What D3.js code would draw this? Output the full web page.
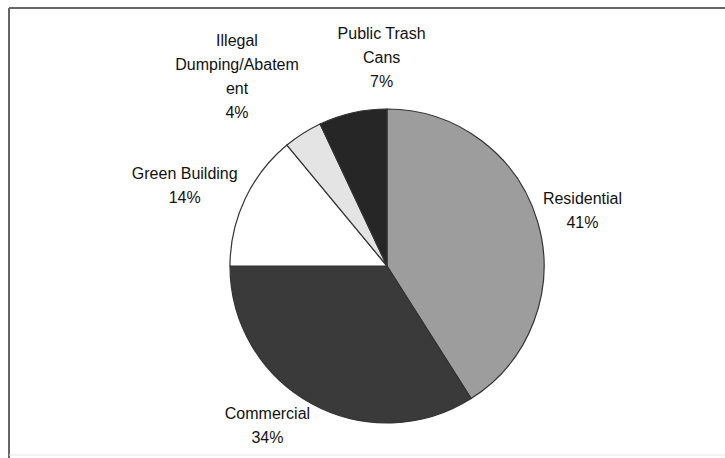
<!DOCTYPE html>
<html>
<head>
<meta charset="utf-8">
<script src="https://cdn.jsdelivr.net/npm/d3@7"></script>
<style>
  body { margin: 0; background: #fff; }
  svg { display: block; }
</style>
</head>
<body>
<div id="chart"></div>
<script>
// Pie of spending share by program area

const categories = ["Residential", "Commercial", "Green Building", "Illegal Dumping/Abatement", "Public Trash Cans"];
const shares = [41, 34, 14, 4, 7];
const labelLines = [
  ["Residential"],
  ["Commercial"],
  ["Green Building"],
  ["Illegal", "Dumping/Abatem", "ent"],
  ["Public Trash", "Cans"]
];
const fills = ["#9d9d9d", "#3a3a3a", "#ffffff", "#e4e4e4", "#262626"];

const width = 725;
const height = 458;
const cx = 387, cy = 266, radius = 157;
const lineH = 24;

// small nudges so labels sit where the original placed them
const labelNudge = {
  "Residential": [0, -3],
  "Commercial": [-20, -5],
  "Green Building": [-6, 0],
  "Illegal Dumping/Abatement": [-29, -10],
  "Public Trash Cans": [40, -13]
};

const svg = d3.select("#chart")
  .append("svg")
  .attr("width", width)
  .attr("height", height);

// frame (top and left edges show in the scan)
svg.append("line")
  .attr("x1", 9).attr("y1", 8).attr("x2", width).attr("y2", 8)
  .attr("stroke", "#666").attr("stroke-width", 2);
svg.append("line")
  .attr("x1", 9).attr("y1", 8).attr("x2", 9).attr("y2", height)
  .attr("stroke", "#666").attr("stroke-width", 2);
svg.append("line")
  .attr("x1", 9).attr("y1", 455).attr("x2", width).attr("y2", 455)
  .attr("stroke", "#e6e6e6").attr("stroke-width", 1);

const data = categories.map((c, i) => ({ name: c, value: shares[i], lines: labelLines[i], fill: fills[i] }));

const pie = d3.pie()
  .value(d => d.value)
  .sort(null);

const arc = d3.arc()
  .innerRadius(0)
  .outerRadius(radius);

const arcs = pie(data);

const g = svg.append("g")
  .attr("transform", `translate(${cx},${cy})`);

g.selectAll("path")
  .data(arcs)
  .join("path")
  .attr("d", arc)
  .attr("fill", d => d.data.fill)
  .attr("stroke", "#333")
  .attr("stroke-width", 1.2);

// labels outside the edge, block pushed away from the pie
const labelArc = d3.arc().innerRadius(radius + 7).outerRadius(radius + 7);
const ctx = document.createElement("canvas").getContext("2d");
ctx.font = "16px 'Liberation Sans', Arial, sans-serif";

arcs.forEach(d => {
  const [px, py] = labelArc.centroid(d);
  const mid = (d.startAngle + d.endAngle) / 2;
  const lines = d.data.lines.concat([d.data.value + "%"]);
  const w = d3.max(lines, l => ctx.measureText(l).width);
  const h = lines.length * lineH;
  const nudge = labelNudge[d.data.name];
  const bx = px + Math.sin(mid) * w / 2 + nudge[0];
  const by = py - Math.cos(mid) * h / 2 + nudge[1];
  const top = by - h / 2;

  const t = g.append("text")
    .attr("text-anchor", "middle")
    .attr("font-family", "'Liberation Sans', Arial, sans-serif")
    .attr("font-size", 16)
    .attr("fill", "#111");

  lines.forEach((l, i) => {
    t.append("tspan")
      .attr("x", bx)
      .attr("y", top + i * lineH + 17)
      .text(l);
  });
});
</script>
</body>
</html>
